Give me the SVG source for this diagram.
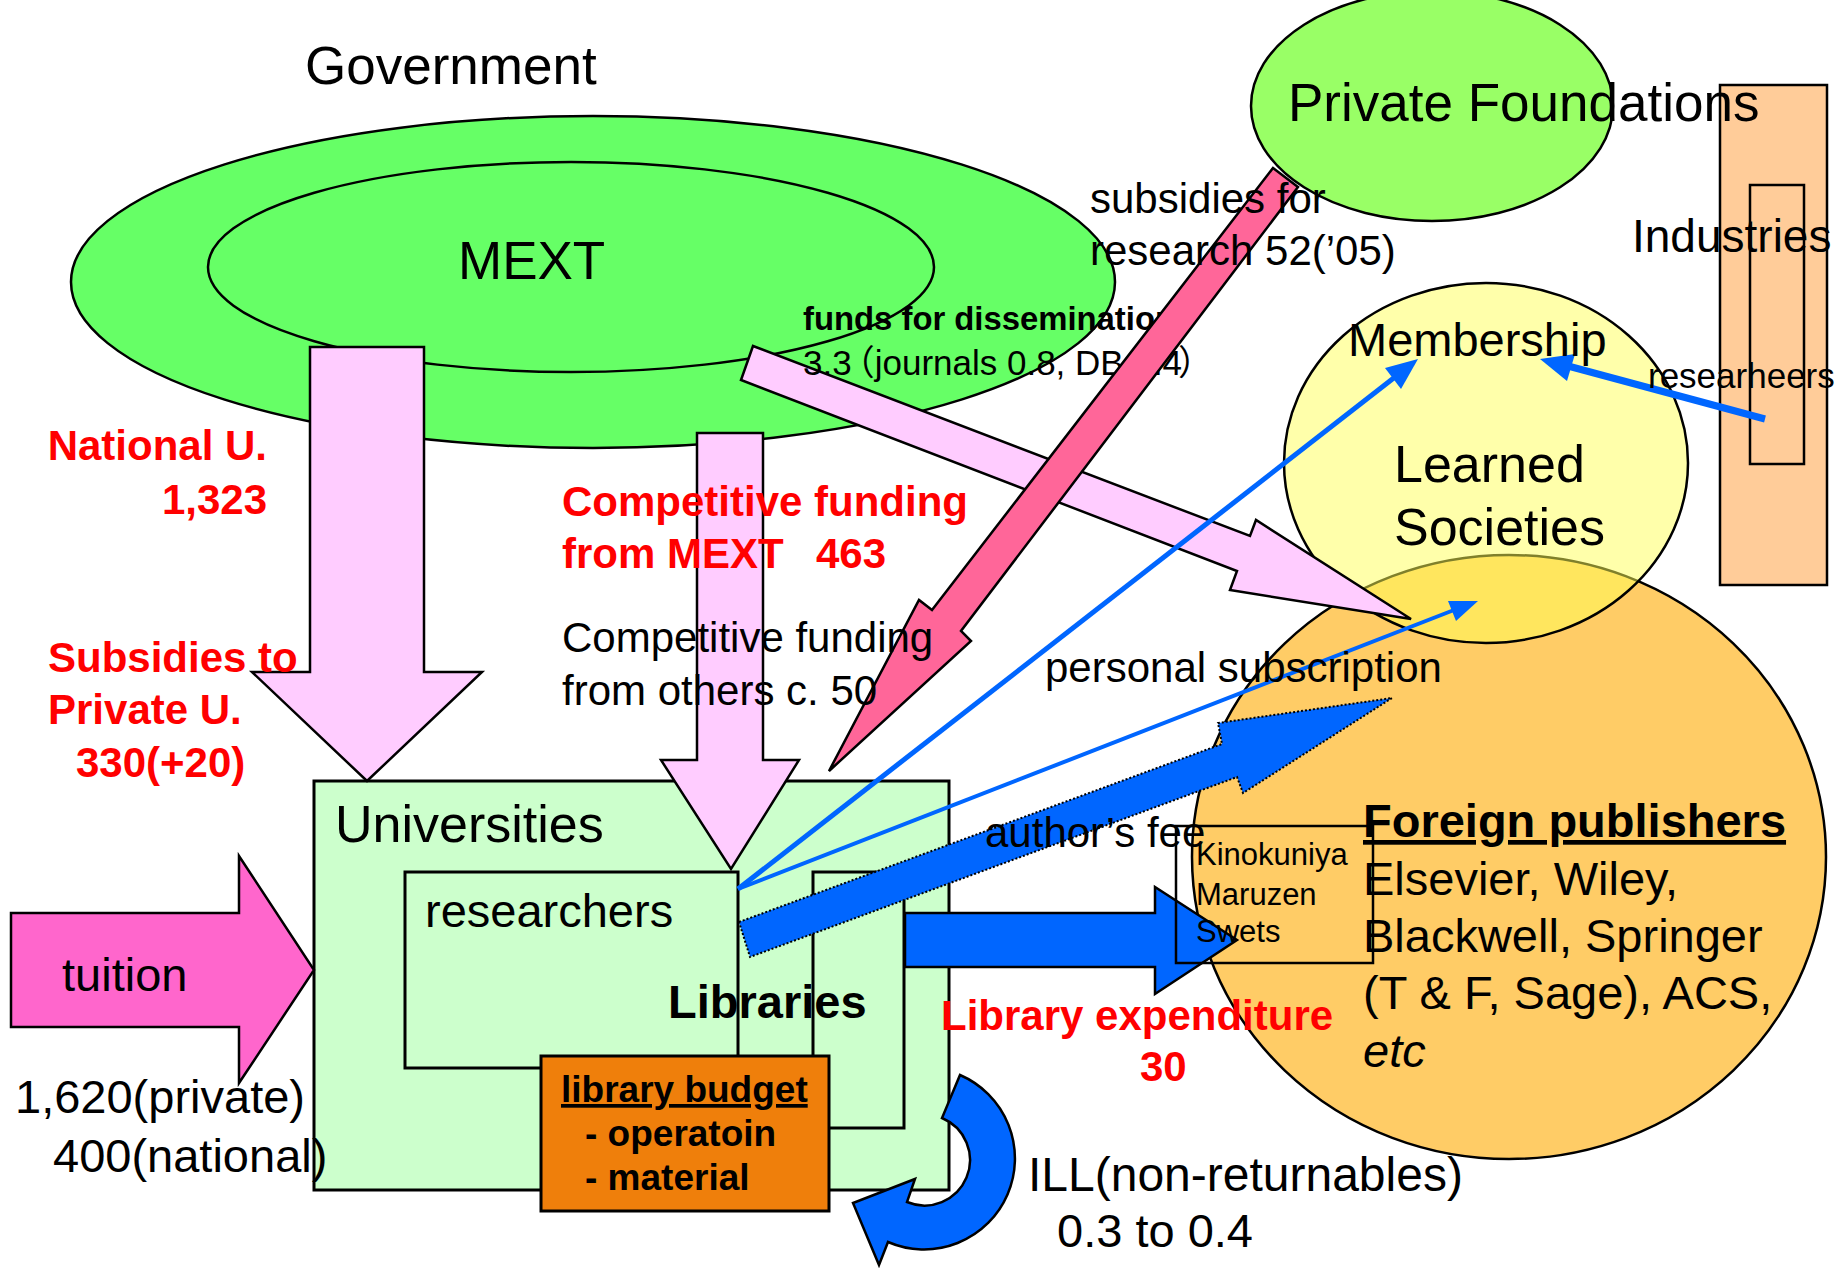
<svg xmlns="http://www.w3.org/2000/svg" width="1836" height="1268" viewBox="0 0 1836 1268">
<style>
text{font-family:"Liberation Sans",Arial,sans-serif;fill:#000}
.b{font-weight:bold}
.red{fill:#FF0000;font-weight:bold}
.s{stroke:#000;stroke-width:2.5}
.pink{fill:#FFCCFF;stroke:#000;stroke-width:2.5}
.blue{fill:#0066FF;stroke:#000;stroke-width:2.5}
.box{fill:#CCFFCC;stroke:#000;stroke-width:3}
.bl{stroke:#0066FF;fill:none;stroke-linecap:butt}
.bh{fill:#0066FF}
</style>
<rect width="1836" height="1268" fill="#fff"/>

<g id="government">
<ellipse cx="593" cy="282" rx="522" ry="166" fill="#66FF66" class="s"/>
<text x="305" y="84" font-size="53">Government</text>
</g>
<g id="mext">
<ellipse cx="571" cy="267" rx="363" ry="105" fill="#66FF66" class="s"/>
<text x="458" y="279" font-size="53">MEXT</text>
</g>

<g id="private-foundations">
<ellipse cx="1432" cy="106" rx="181" ry="115" fill="#99FF66" class="s"/>
</g>

<g id="industries">
<rect x="1720" y="85" width="107" height="500" fill="#FFCC99" class="s"/>
<rect x="1750" y="185" width="54" height="279" fill="none" class="s"/>
</g>

<g id="foreign-publishers">
<ellipse cx="1509" cy="857" rx="317" ry="302" fill="#FFCC66" class="s"/>
</g>
<g id="learned-societies">
<ellipse cx="1486" cy="463" rx="202" ry="180" fill="#FFFF55" fill-opacity="0.5" stroke="#000" stroke-width="2.5"/>
</g>

<g id="universities">
<rect x="314" y="781" width="635" height="409" class="box"/>
<text x="335" y="842" font-size="52">Universities</text>
</g>
<g id="researchers">
<rect x="405" y="872" width="333" height="196" class="box"/>
<text x="425" y="927" font-size="47">researchers</text>
</g>
<g id="libraries">
<rect x="813" y="872" width="91" height="256" class="box"/>
</g>

<g id="connectors">
<polygon class="pink" points="310,347 424,347 424,672 482,672 367,781 252,672 310,672"/>
<polygon class="pink" points="697,433 763,433 763,760 799,760 731,869 661,760 697,760"/>
<polygon points="11,913 239,913 239,856 314,970 239,1083 239,1027 11,1027" fill="#FF66CC" class="s"/>
<polygon class="pink" points="753,346 1250,536 1256,520 1411,619 1230,590 1237,571 741,380"/>
<text x="803" y="330" font-size="34" class="b" textLength="372" lengthAdjust="spacingAndGlyphs">funds for dissemination</text>
<text x="803" y="375" font-size="35" style="font-family:'Liberation Sans','Noto Sans CJK JP',sans-serif">3.3<tspan dx="-12">（</tspan>journals 0.8, DB 2.4<tspan dx="-4">）</tspan></text>
<polygon points="1273,168 1298,187 961,631 971,641 829,771 919,600 932,610" fill="#FF6699" class="s"/>
<polygon class="blue" points="905,913 1155,913 1155,887 1237,940 1155,994 1155,967 905,967"/>
<polygon points="739,922 1222,744 1218,723 1392,698 1243,793 1237,777 750,957" fill="#0066FF" stroke="#000" stroke-width="2" stroke-dasharray="2,2"/>
<line class="bl" x1="738" y1="889" x2="1395" y2="377" stroke-width="5"/>
<polygon class="bh" points="1418,359 1401,389 1385,368"/>
<line class="bl" x1="738" y1="889" x2="1454" y2="610" stroke-width="4"/>
<polygon class="bh" points="1478,601 1456,621 1448,601"/>
<line class="bl" x1="1765" y1="419" x2="1568" y2="366" stroke-width="7"/>
<polygon class="bh" points="1540,359 1575,354 1567,381"/>
<path class="blue" d="M960,1075 A90,90 0 1 1 888,1242 L879,1265 L853,1203 L915,1179 L907,1202 A45,45 0 1 0 942,1118 Z"/>
</g>

<g id="library-budget">
<rect x="541" y="1056" width="288" height="155" fill="#EF7F0B" stroke="#000" stroke-width="3"/>
<text x="561" y="1102" font-size="37" class="b" text-decoration="underline">library budget</text>
<text x="585" y="1146" font-size="37" class="b">- operatoin</text>
<text x="585" y="1190" font-size="37" class="b">- material</text>
</g>

<g id="agents">
<rect x="1176" y="826" width="197" height="137" fill="none" class="s"/>
<text x="1196" y="865" font-size="31">Kinokuniya</text>
<text x="1196" y="905" font-size="31">Maruzen</text>
<text x="1196" y="942" font-size="31">Swets</text>
</g>

<g id="labels">
<text x="1090" y="213" font-size="42">subsidies for</text>
<text x="1090" y="265" font-size="42">research 52(’05)</text>
<text x="1288" y="121" font-size="53">Private Foundations</text>
<text x="1632" y="252" font-size="46">Industries</text>
<text x="1648" y="388" font-size="35">researheers</text>
<text x="1348" y="356" font-size="47">Membership</text>
<text x="1394" y="482" font-size="52">Learned</text>
<text x="1394" y="545" font-size="52">Societies</text>
<text x="267" y="460" font-size="42" class="red" text-anchor="end">National U.</text>
<text x="267" y="514" font-size="42" class="red" text-anchor="end">1,323</text>
<text x="48" y="672" font-size="42" class="red">Subsidies to</text>
<text x="48" y="724" font-size="42" class="red">Private U.</text>
<text x="76" y="777" font-size="42" class="red">330(+20)</text>
<text x="562" y="516" font-size="42" class="red">Competitive funding</text>
<text x="562" y="568" font-size="42" class="red">from MEXT<tspan x="816">463</tspan></text>
<text x="562" y="652" font-size="42">Competitive funding</text>
<text x="562" y="705" font-size="42">from others c. 50</text>
<text x="1045" y="682" font-size="42">personal subscription</text>
<text x="668" y="1018" font-size="47" class="b">Libraries</text>
<text x="985" y="847" font-size="42">author’s fee</text>
<text x="1363" y="837" font-size="47" class="b" text-decoration="underline">Foreign publishers</text>
<text x="1363" y="895" font-size="47">Elsevier, Wiley,</text>
<text x="1363" y="952" font-size="47">Blackwell, Springer</text>
<text x="1363" y="1009" font-size="47">(T &amp; F, Sage), ACS,</text>
<text x="1363" y="1067" font-size="47" font-style="italic">etc</text>
<text x="941" y="1030" font-size="42" class="red">Library expenditure</text>
<text x="1140" y="1081" font-size="42" class="red">30</text>
<text x="62" y="991" font-size="47">tuition</text>
<text x="15" y="1113" font-size="47">1,620(private)</text>
<text x="53" y="1172" font-size="47">400(national)</text>
<text x="1028" y="1191" font-size="48">ILL(non-returnables)</text>
<text x="1057" y="1247" font-size="47">0.3 to 0.4</text>
</g>
</svg>
